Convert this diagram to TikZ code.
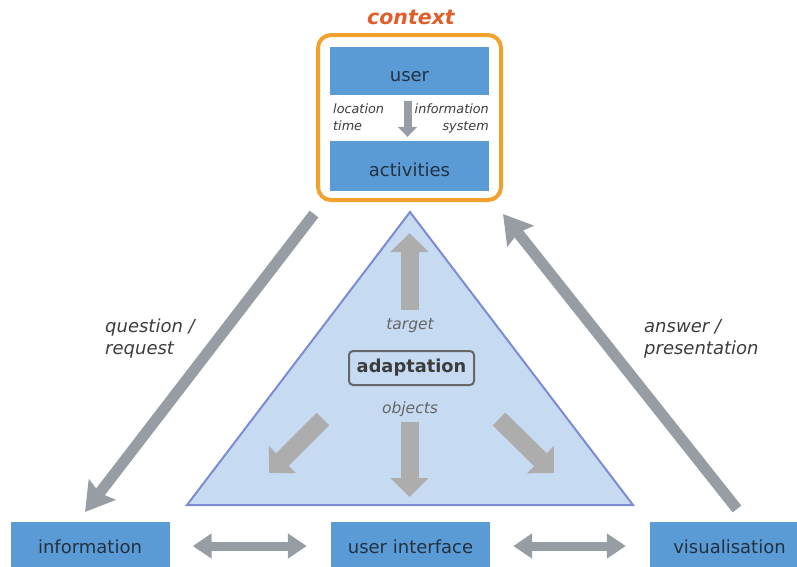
\documentclass[tikz,border=0pt]{standalone}
\usepackage{fontspec}
\setmainfont{DejaVu Sans}
\usetikzlibrary{arrows.meta}

\definecolor{boxblue}{HTML}{5B9BD5}
\definecolor{boxtext}{HTML}{223141}
\definecolor{frameorange}{HTML}{F2A12E}
\definecolor{titleorange}{HTML}{DF5E2C}
\definecolor{flowgray}{HTML}{979DA4}
\definecolor{innergray}{HTML}{ADADAD}
\definecolor{trifill}{HTML}{C6DAF1}
\definecolor{tridraw}{HTML}{7D8BD2}
\definecolor{labeltext}{HTML}{3C3C3C}
\definecolor{softtext}{HTML}{666666}

\tikzset{
  bluebox/.style={fill=boxblue, text=boxtext, minimum width=159pt, minimum height=48pt,
    inner sep=0pt, text height=21pt, text depth=0pt, font=\fontsize{18}{21}\selectfont},
  flowlabel/.style={text=labeltext, align=left, anchor=west, inner sep=0pt,
    font=\fontsize{18}{22}\selectfont\itshape},
  smalllabel/.style={text=labeltext, inner sep=0pt, font=\fontsize{12.8}{17}\selectfont\itshape},
  innerlabel/.style={text=softtext, inner sep=0pt, font=\fontsize{15.5}{18}\selectfont\itshape},
  bigflow/.style={draw=flowgray, line width=11pt,
    -{Stealth[length=28pt, width=33pt, inset=4pt]}},
  pairflow/.style={draw=flowgray, line width=9pt,
    {Triangle[length=19pt, width=24pt]}-{Triangle[length=19pt, width=24pt]},
    shorten <=23pt, shorten >=24pt},
  blockflow/.style={draw=innergray, line width=18pt,
    -{Triangle[length=19pt, width=37pt]}},
}

\begin{document}
\begin{tikzpicture}[x=1pt, y=-1pt]
\useasboundingbox (0,0) rectangle (797,566);

% adaptation triangle
\coordinate (apex) at (410,212);
\coordinate (baseL) at (187,505);
\coordinate (baseR) at (633,505);
\draw[fill=trifill, draw=tridraw, line width=2pt, line join=miter] (apex) -- (baseL) -- (baseR) -- cycle;

% context frame with user and activities
\node[draw=frameorange, line width=4pt, rounded corners=13pt, minimum width=183pt,
      minimum height=165pt, inner sep=0pt] (ctx) at (409.5,117.5) {};
\node[text=titleorange, font=\fontsize{20.5}{24}\selectfont\bfseries\itshape] (ctxtitle) at (411,17.5) {context};
\node[bluebox] (user) at (409.5,71) {user};
\node[bluebox, minimum height=50pt] (act) at (409.5,166) {activities};
\draw[draw=flowgray, line width=8pt, -{Triangle[length=10pt, width=19pt]},
      shorten <=6pt, shorten >=4pt] ([xshift=-2pt]user.south) -- ([xshift=-2pt]act.north);
\node[smalllabel, align=left, anchor=north west] (loc) at (333,104) {location\\time};
\node[smalllabel, align=right, anchor=north east] (infsys) at (489,104) {information\\system};

% bottom row
\node[bluebox, text height=14pt] (info) at (90,546) {information};
\node[bluebox, text height=14pt] (ui) at (410.5,546) {user interface};
\node[bluebox, text height=14pt] (vis) at (729.5,546) {visualisation};
\draw[pairflow] (info) -- (ui);
\draw[pairflow] (ui) -- (vis);

% request and answer flows
\coordinate (reqS) at (314,214);
\coordinate (reqE) at (85,512);
\coordinate (ansS) at (737,509);
\coordinate (ansE) at (503,214);
\draw[bigflow] (reqS) -- (reqE);
\draw[bigflow] (ansS) -- (ansE);
\node[flowlabel] (qlab) at (105,339) {question /\\request};
\node[flowlabel] (alab) at (644,339) {answer /\\presentation};

% adaptation core
\node[draw=softtext, line width=2pt, rounded corners=4pt, minimum width=125pt,
      minimum height=34pt, inner sep=0pt, text=labeltext,
      font=\fontsize{17.8}{20}\selectfont\bfseries] (adapt) at (411.5,368) {adaptation};
\node[innerlabel] (target) at (410,326) {target};
\node[innerlabel] (objects) at (410,409) {objects};

\coordinate (upS) at (409.5,310);
\coordinate (upE) at (409.5,233);
\coordinate (downS) at (409.5,422);
\coordinate (downE) at (409.5,497);
\coordinate (leftS) at (323,419);
\coordinate (leftE) at (269,473);
\coordinate (rightS) at (499,419);
\coordinate (rightE) at (554,473);
\draw[blockflow] (upS) -- (upE);
\draw[blockflow] (downS) -- (downE);
\draw[blockflow] (leftS) -- (leftE);
\draw[blockflow] (rightS) -- (rightE);
\end{tikzpicture}
\end{document}
